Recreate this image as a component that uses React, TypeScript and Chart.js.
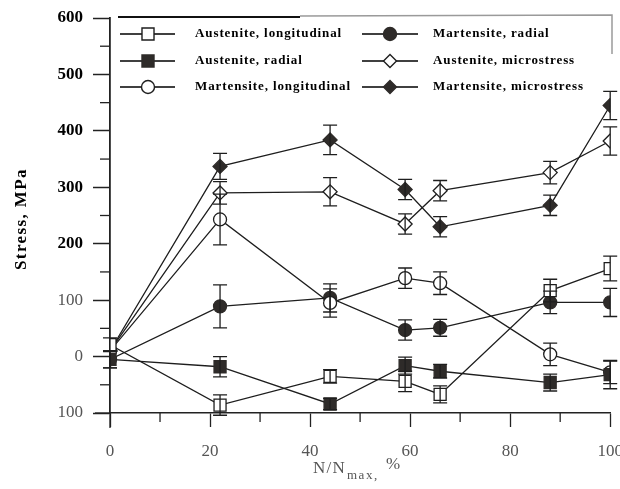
import React, { useEffect, useRef } from "react";
import { Chart, registerables } from "chart.js";

Chart.register(...registerables);

// ---- data ----
const xValues = [0, 22, 44, 59, 66, 88, 100];
const seriesNames = [
  "Austenite, longitudinal",
  "Austenite, radial",
  "Martensite, longitudinal",
  "Martensite, radial",
  "Austenite, microstress",
  "Martensite, microstress",
];
const austeniteLongitudinal = [21, -86, -35, -44, -67, 117, 156];
const austeniteLongitudinalErr = [12, 18, 12, 18, 15, 20, 22];
const austeniteRadial = [-5, -18, -84, -16, -26, -46, -32];
const austeniteRadialErr = [15, 18, 10, 15, 12, 15, 25];
const martensiteLongitudinal = [10, 243, 95, 139, 130, 4, -28];
const martensiteLongitudinalErr = [0, 45, 25, 18, 20, 20, 20];
const martensiteRadial = [-5, 89, 104, 47, 51, 96, 96];
const martensiteRadialErr = [15, 38, 25, 18, 15, 20, 25];
const austeniteMicro = [10, 290, 292, 235, 294, 326, 382];
const austeniteMicroErr = [0, 20, 25, 18, 18, 20, 25];
const martensiteMicro = [10, 337, 384, 296, 230, 268, 445];
const martensiteMicroErr = [0, 23, 26, 18, 18, 18, 25];

const yTickValues = [-100, 0, 100, 200, 300, 400, 500, 600];
const yTickLabels = ["100", "0", "100", "200", "300", "400", "500", "600"];
const xTickValues = [0, 20, 40, 60, 80, 100];
const xTickLabels = ["0", "20", "40", "60", "80", "100"];

const seriesValues = [
  austeniteLongitudinal,
  austeniteRadial,
  martensiteLongitudinal,
  martensiteRadial,
  austeniteMicro,
  martensiteMicro,
];
const seriesErrors = [
  austeniteLongitudinalErr,
  austeniteRadialErr,
  martensiteLongitudinalErr,
  martensiteRadialErr,
  austeniteMicroErr,
  martensiteMicroErr,
];
const seriesShapes = ["rect", "rect", "circle", "circle", "rectRot", "rectRot"];
const seriesFilled = [false, true, false, true, false, true];

const LINE = "#1e1e1e";
const FILL = "#2e2b29";
const SERIF = "'Liberation Serif', 'DejaVu Serif', serif";

function drawMarker(ctx: CanvasRenderingContext2D, shape: string, x: number, y: number, r: number, filled: boolean) {
  ctx.save();
  ctx.beginPath();
  if (shape === "circle") {
    ctx.arc(x, y, r, 0, Math.PI * 2);
  } else if (shape === "rect") {
    const s = r * Math.SQRT1_2;
    ctx.rect(x - s, y - s, 2 * s, 2 * s);
  } else {
    ctx.moveTo(x, y - r);
    ctx.lineTo(x + r, y);
    ctx.lineTo(x, y + r);
    ctx.lineTo(x - r, y);
    ctx.closePath();
  }
  ctx.fillStyle = filled ? FILL : "#ffffff";
  ctx.fill();
  ctx.lineWidth = 1.4;
  ctx.strokeStyle = filled ? FILL : LINE;
  ctx.stroke();
  ctx.restore();
}

const customPlugin = {
  id: "custom",
  afterDatasetsDraw(chart: any) {
    const ctx: CanvasRenderingContext2D = chart.ctx;
    const xs = chart.scales.x;
    const ys = chart.scales.y;
    ctx.save();
    ctx.strokeStyle = LINE;
    ctx.lineWidth = 1.3;
    chart.data.datasets.forEach((ds: any, di: number) => {
      const errs = seriesErrors[di];
      ds.data.forEach((p: any, i: number) => {
        const e = errs[i];
        if (!e) return;
        const px = xs.getPixelForValue(p.x);
        const top = ys.getPixelForValue(p.y + e);
        const bot = ys.getPixelForValue(p.y - e);
        ctx.beginPath();
        ctx.moveTo(px, top);
        ctx.lineTo(px, bot);
        ctx.moveTo(px - 7, top);
        ctx.lineTo(px + 7, top);
        ctx.moveTo(px - 7, bot);
        ctx.lineTo(px + 7, bot);
        ctx.stroke();
      });
    });
    ctx.restore();
  },
  afterDraw(chart: any) {
    const ctx: CanvasRenderingContext2D = chart.ctx;
    const xs = chart.scales.x;
    const ys = chart.scales.y;
    const area = chart.chartArea;
    ctx.save();
    // minor ticks
    ctx.strokeStyle = "#222";
    ctx.lineWidth = 1.3;
    for (let v = -50; v <= 550; v += 100) {
      const py = ys.getPixelForValue(v);
      ctx.beginPath();
      ctx.moveTo(area.left - 10, py);
      ctx.lineTo(area.left, py);
      ctx.stroke();
    }
    for (let v = 10; v <= 90; v += 20) {
      const px = xs.getPixelForValue(v);
      ctx.beginPath();
      ctx.moveTo(px, area.bottom);
      ctx.lineTo(px, area.bottom + 9);
      ctx.stroke();
    }
    ctx.beginPath();
    ctx.moveTo(area.left, area.bottom);
    ctx.lineTo(area.left, area.bottom + 15);
    ctx.stroke();
    ctx.beginPath();
    ctx.moveTo(area.left - 15, area.bottom);
    ctx.lineTo(area.left, area.bottom);
    ctx.stroke();

    // legend box
    ctx.strokeStyle = "#111";
    ctx.lineWidth = 2;
    ctx.beginPath();
    ctx.moveTo(area.left + 8, 17);
    ctx.lineTo(300, 17);
    ctx.stroke();
    ctx.strokeStyle = "#9a9a9a";
    ctx.lineWidth = 1.5;
    ctx.beginPath();
    ctx.moveTo(300, 16);
    ctx.lineTo(612, 15);
    ctx.lineTo(612, 54);
    ctx.stroke();

    const rows = [34, 61, 87];
    const colLine = [
      [120, 175, 148, 195],
      [362, 418, 390, 433],
    ];
    ctx.font = `bold 13px ${SERIF}`;
    (ctx as any).letterSpacing = "0.9px";
    ctx.textBaseline = "middle";
    ctx.textAlign = "left";
    chart.data.datasets.forEach((ds: any, di: number) => {
      const col = di < 3 ? 0 : 1;
      const row = di % 3;
      const [x0, x1, mx, tx] = colLine[col];
      const y = rows[row];
      ctx.strokeStyle = "#000";
      ctx.lineWidth = 1.5;
      ctx.beginPath();
      ctx.moveTo(x0, y);
      ctx.lineTo(x1, y);
      ctx.stroke();
      drawMarker(ctx, seriesShapes[di], mx, y, seriesShapes[di] === "rect" ? 8.5 : 6.5, seriesFilled[di]);
      ctx.fillStyle = "#000";
      ctx.fillText(ds.label, tx, y);
    });
    (ctx as any).letterSpacing = "0px";

    // y title
    ctx.save();
    ctx.translate(22, 219);
    ctx.rotate(-Math.PI / 2);
    ctx.font = `bold 17px ${SERIF}`;
    (ctx as any).letterSpacing = "1.4px";
    ctx.textAlign = "center";
    ctx.textBaseline = "middle";
    ctx.fillStyle = "#000";
    ctx.fillText("Stress, MPa", 0, 0);
    ctx.restore();

    // x title
    ctx.fillStyle = "#555";
    ctx.textBaseline = "alphabetic";
    ctx.textAlign = "left";
    (ctx as any).letterSpacing = "1.2px";
    ctx.font = `17px ${SERIF}`;
    let x = 313;
    const base = 473;
    ctx.fillText("N/N", x, base);
    x += ctx.measureText("N/N").width;
    (ctx as any).letterSpacing = "1.6px";
    ctx.font = `13px ${SERIF}`;
    ctx.fillText("max,", x + 1, base + 6);
    x += ctx.measureText("max,").width + 8;
    ctx.font = `17px ${SERIF}`;
    ctx.fillText("%", x, base - 4);
    ctx.restore();
  },
};

export default function App() {
  const ref = useRef<HTMLCanvasElement | null>(null);

  useEffect(() => {
    if (!ref.current) return;
    const datasets = seriesNames.map((name, i) => ({
      label: name,
      data: xValues.map((x, j) => ({ x, y: seriesValues[i][j] })),
      borderColor: LINE,
      borderWidth: 1.3,
      pointStyle: seriesShapes[i],
      pointRadius: seriesShapes[i] === "rect" ? 8.5 : seriesShapes[i] === "circle" ? 6.5 : 7,
      pointBackgroundColor: seriesFilled[i] ? FILL : "#ffffff",
      pointBorderColor: seriesFilled[i] ? FILL : LINE,
      pointBorderWidth: 1.3,
      showLine: true,
      fill: false,
      tension: 0,
    }));

    const chart = new Chart(ref.current, {
      type: "scatter",
      data: { datasets },
      plugins: [customPlugin],
      options: {
        animation: false,
        responsive: false,
        devicePixelRatio: 1,
        layout: { padding: { top: 18, right: 6, left: 0, bottom: 0 } },
        plugins: { legend: { display: false }, tooltip: { enabled: false } },
        scales: {
          x: {
            type: "linear",
            min: 0,
            max: 100,
            afterFit: (s: any) => {
              s.height = 76;
              s.paddingLeft = 0;
              s.paddingRight = 0;
            },
            afterBuildTicks: (s: any) => {
              s.ticks = xTickValues.map((v) => ({ value: v }));
            },
            ticks: {
              padding: 14,
              color: "#555",
              font: { family: SERIF, size: 17 },
              maxRotation: 0,
              callback: (v: any) => {
                const k = xTickValues.indexOf(Number(v));
                return k >= 0 ? xTickLabels[k] : "";
              },
            },
            grid: {
              display: true,
              drawOnChartArea: false,
              drawTicks: true,
              tickLength: 14,
              tickColor: "#222",
              tickWidth: 1.3,
            },
            border: { display: true, color: "#222", width: 1.5 },
          },
          y: {
            type: "linear",
            min: -100,
            max: 600,
            afterFit: (s: any) => {
              s.width = 110;
              s.paddingTop = 0;
              s.paddingBottom = 0;
            },
            afterBuildTicks: (s: any) => {
              s.ticks = yTickValues.map((v) => ({ value: v }));
            },
            ticks: {
              padding: 10,
              color: (c: any) => (c.tick && c.tick.value >= 200 ? "#000" : "#555"),
              font: (c: any) =>
                c.tick && c.tick.value >= 200
                  ? { family: SERIF, size: 17, weight: "bold" }
                  : { family: SERIF, size: 17, weight: "normal" },
              callback: (v: any) => {
                const k = yTickValues.indexOf(Number(v));
                return k >= 0 ? yTickLabels[k] : "";
              },
            },
            grid: {
              display: true,
              drawOnChartArea: false,
              drawTicks: true,
              tickLength: 17,
              tickColor: "#222",
              tickWidth: 1.5,
            },
            border: { display: true, color: "#222", width: 1.8 },
          },
        },
      } as any,
    });
    return () => chart.destroy();
  }, []);

  return (
    <div style={{ position: "fixed", left: 0, top: 0, width: 620, height: 489, background: "#fff" }}>
      <canvas ref={ref} width={620} height={489} style={{ width: 620, height: 489, display: "block" }} />
    </div>
  );
}
